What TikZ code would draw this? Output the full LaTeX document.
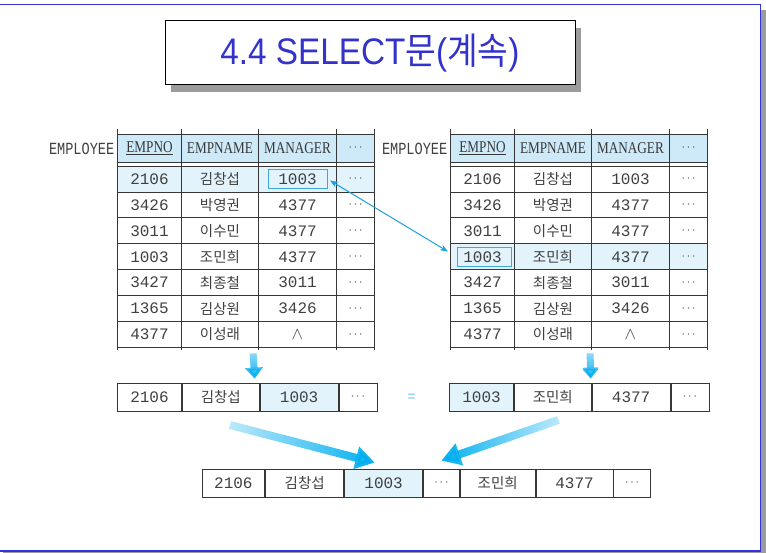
\documentclass[tikz,border=0pt]{standalone}
\usepackage{fontspec}
\usepackage{tikz}
\usetikzlibrary{positioning,arrows.meta,backgrounds,fadings,shadows}
\newfontfamily\monofont{Liberation Mono}
\newfontfamily\lblfont[FakeStretch=0.8]{Liberation Mono}
\newfontfamily\hdfont[FakeStretch=0.8]{Liberation Serif}
\newfontfamily\krfont{Noto Sans CJK KR}
\newfontfamily\ttlfont[FakeStretch=0.9]{Liberation Sans}
\newfontfamily\ttlkr[FakeStretch=0.9]{Noto Sans CJK KR}
\definecolor{tline}{RGB}{55,55,55}
\definecolor{ink}{RGB}{64,64,64}
\definecolor{hdblue}{RGB}{206,234,249}
\definecolor{rowblue}{RGB}{226,243,252}
\definecolor{pickblue}{RGB}{60,168,222}
\definecolor{lnkblue}{RGB}{28,160,222}
\definecolor{fatblue}{RGB}{0,174,239}
\definecolor{eqblue}{RGB}{110,200,240}
\definecolor{frmblue}{RGB}{51,51,221}
\definecolor{ttlblue}{RGB}{51,51,204}
\definecolor{shd}{RGB}{155,155,155}
\tikzfading[name=fadeE, left color=transparent!75, right color=transparent!0]
\tikzfading[name=fadeW, left color=transparent!0, right color=transparent!75]
\tikzfading[name=fadeS, top color=transparent!60, bottom color=transparent!0]
\tikzset{cel/.style={draw=tline,line width=0.8pt,inner sep=0pt,minimum height=25.9pt,text=ink,font=\fontsize{16}{16}\monofont}}
\tikzset{rec/.style={cel,minimum height=28pt}}
\tikzset{kr/.style={font=\fontsize{14.5}{14.5}\krfont}}
\tikzset{hd/.style={fill=hdblue,minimum height=28pt,text=tline,font=\fontsize{16.5}{16.5}\hdfont}}
\tikzset{dt/.style={text=tline,font=\fontsize{13}{13}\selectfont}}
\tikzset{lbl/.style={text=ink,inner sep=0pt,font=\fontsize{17}{17}\lblfont}}
\tikzset{wa/.style={minimum width=64pt},wb/.style={minimum width=77pt},
  wc/.style={minimum width=78pt},wd/.style={minimum width=38pt}}
\tikzset{pick/.style={draw=pickblue,line width=0.9pt,inner sep=0pt,minimum width=59pt,minimum height=19.5pt}}
\tikzset{lnk/.style={lnkblue,line width=1pt,{Stealth[length=8pt,width=6pt]}-{Stealth[length=8pt,width=6pt]},
  shorten <=3pt,shorten >=10pt}}
\tikzset{fat/.style={fatblue,line width=8pt,-{Triangle[length=19pt,width=22pt]}}}
\tikzset{dn/.style={fatblue,line width=7pt,-{Triangle[length=11pt,width=18pt]},path fading=fadeS}}

\begin{document}
\begin{tikzpicture}[x=1pt,y=-1pt]
  \useasboundingbox (0,0) rectangle (766,553);
  % frame
  \fill[shd] (761,10) rectangle (766,553);
  \fill[shd] (3,551.5) rectangle (766,553);
  \draw[frmblue,line width=1.5pt] (0,4.7) -| (760.3,551) -- (0,551);
  % title
  \node[draw,line width=1pt,fill=white,minimum width=410pt,minimum height=64pt,
    drop shadow={shadow xshift=6pt,shadow yshift=-7pt,fill=shd,opacity=1},
    text=ttlblue,font=\fontsize{37}{37}\selectfont] (title) at (370,53)
    {{\ttlfont 4.4 SELECT}{\ttlkr 문}{\ttlfont (}{\ttlkr 계속}{\ttlfont )}};
  % the two tables
  \foreach \t/\dx in {L/0,R/333}{
    \foreach \x in {117.5,181.5,258.5,336.5,374.5}
      \draw[tline,line width=0.8pt] ({\x+\dx},129) -- ({\x+\dx},350);
    \node[lbl,anchor=east] (\t-name) at ({114.5+\dx},149) {EMPLOYEE};
    \node[cel,hd,wa] (\t-0-1) at ({149.5+\dx},148) {\underline{EMPNO}};
    \node[cel,hd,wb] (\t-0-2) at ({220+\dx},148) {EMPNAME};
    \node[cel,hd,wc] (\t-0-3) at ({297.5+\dx},148) {MANAGER};
    \node[cel,hd,wd,dt] (\t-0-4) at ({355.5+\dx},148) {$\cdots$};
    \foreach \r/\no/\nm/\mg [evaluate=\r as \y using 166+(\r-0.5)*25.93] in
      {1/2106/김창섭/1003,2/3426/박영권/4377,3/3011/이수민/4377,4/1003/조민희/4377,
       5/3427/최종철/3011,6/1365/김상원/3426,7/4377/이성래/$\wedge$}{
      \node[cel,wa] (\t-\r-1) at ({149.5+\dx},\y) {\no};
      \node[cel,wb,kr] (\t-\r-2) at ({220+\dx},\y) {\nm};
      \node[cel,wc] (\t-\r-3) at ({297.5+\dx},\y) {\mg};
      \node[cel,wd,dt] (\t-\r-4) at ({355.5+\dx},\y) {$\cdots$};
    }
  }
  \begin{scope}[on background layer]
    \fill[rowblue] (L-1-1.north west) rectangle (L-1-4.south east);
    \fill[rowblue] (R-4-1.north west) rectangle (R-4-4.south east);
  \end{scope}
  \node[pick] (lbox) at (L-1-3) {};
  \node[pick,minimum width=54pt] (rbox) at ([xshift=1.5pt]R-4-1) {};
  \draw[lnk] (lbox.east) -- (rbox.west);
  % picked rows
  \node[rec,wa] (A1) at (149.5,397) {2106};
  \node[rec,wb,kr,right=0pt of A1] (A2) {김창섭};
  \node[rec,wc,fill=rowblue,right=0pt of A2] (A3) {1003};
  \node[rec,wd,dt,right=0pt of A3] (A4) {$\cdots$};
  \node[rec,wa,fill=rowblue] (B1) at (481.5,397) {1003};
  \node[rec,wb,kr,right=0pt of B1] (B2) {조민희};
  \node[rec,wc,right=0pt of B2] (B3) {4377};
  \node[rec,wd,dt,right=0pt of B3] (B4) {$\cdots$};
  \node[text=eqblue,font=\fontsize{15}{15}\ttlfont] (eq) at (411.5,397.5) {=};
  \draw[dn] ([xshift=-5pt,yshift=-5.5pt]L-7-3.south west) -- ([xshift=-5pt,yshift=4pt]A3.north west);
  \draw[dn] ([xshift=-1pt,yshift=-5.5pt]R-7-3.south west) -- ([xshift=-1pt,yshift=4pt]B3.north west);
  % joined row
  \node[rec,minimum width=62.8pt] (C1) at (233.4,483) {2106};
  \node[rec,kr,minimum width=78.2pt,right=0pt of C1] (C2) {김창섭};
  \node[rec,wc,fill=rowblue,right=0pt of C2] (C3) {1003};
  \node[rec,dt,minimum width=36pt,right=0pt of C3] (C4) {$\cdots$};
  \node[rec,kr,minimum width=75pt,right=0pt of C4] (C5) {조민희};
  \node[rec,minimum width=77pt,right=0pt of C5] (C6) {4377};
  \node[rec,dt,minimum width=36.5pt,right=0pt of C6] (C7) {$\cdots$};
  \coordinate (tl) at (230,425);
  \coordinate (tr) at (558.5,420);
  \draw[fat,path fading=fadeE] (tl) -- ([xshift=-9pt,yshift=6pt]C3.north);
  \draw[fat,path fading=fadeW] (tr) -- ([yshift=8pt]C4.north);
\end{tikzpicture}
\end{document}
